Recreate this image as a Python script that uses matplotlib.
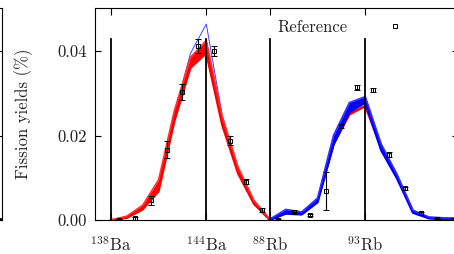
import numpy as np
import matplotlib
matplotlib.use("Agg")
import matplotlib.pyplot as plt
from matplotlib.lines import Line2D

plt.rcParams['font.family'] = ['cmr10', 'DejaVu Serif']
plt.rcParams['mathtext.fontset'] = 'cm'
plt.rcParams['axes.formatter.use_mathtext'] = True

# nuclide markers on the x axis
tick_pos = [0, 6, 10, 16]
tick_labels = [r'$^{138}$Ba', r'$^{144}$Ba', r'$^{88}$Rb', r'$^{93}$Rb']

# reference yields (data points sit half a step right of the model vertices)
ref_x = [0.5, 1.5, 2.5, 3.5, 4.5, 5.5, 6.5, 7.5, 8.5, 9.5,
         10.5, 11.5, 12.5, 13.5, 14.5, 15.5, 16.5, 17.5, 18.5, 19.5, 20.5, 21.5]
ref_y = [0.0001, 0.0004, 0.0047, 0.0166, 0.0302, 0.0412, 0.0400, 0.0188, 0.0091, 0.0024,
         0.0001, 0.0020, 0.0012, 0.0069, 0.0222, 0.0314, 0.0308, 0.0155, 0.0075, 0.0016, 0.0003, 0.0000]
ref_err = [0.0001, 0.0003, 0.0011, 0.0020, 0.0019, 0.0017, 0.0011, 0.0011, 0.0005, 0.0004,
           0.0001, 0.0003, 0.0002, 0.0045, 0.0004, 0.0005, 0.0004, 0.0005, 0.0004, 0.0003, 0.0001, 0.0001]

# Ba model band (red) and outlier (blue)
ba_k = [0, 1, 2, 3, 4, 5, 6, 7, 8, 9, 10]
ba_red_lo = [0.0, 0.0005, 0.0025, 0.0068, 0.0235, 0.0360, 0.0395, 0.0225, 0.0110, 0.0038, 0.0]
ba_red_hi = [0.0, 0.0009, 0.0035, 0.0095, 0.0260, 0.0385, 0.0425, 0.0245, 0.0125, 0.0046, 0.0002]
ba_blue = [0.0, 0.0007, 0.0030, 0.0085, 0.0252, 0.0394, 0.0464, 0.0248, 0.0122, 0.0044, 0.0]

# Rb model band (blue) with red underneath
rb_k = [10, 11, 12, 13, 14, 15, 16, 17, 18, 19, 20, 21, 22]
rb_blue_lo = [0.0, 0.0015, 0.0013, 0.0042, 0.0178, 0.0255, 0.0278, 0.0165, 0.0098, 0.0017, 0.0004, 0.0002, 0.0002]
rb_blue_hi = [0.0002, 0.0025, 0.0019, 0.0052, 0.0200, 0.0278, 0.0292, 0.0180, 0.0108, 0.0023, 0.0007, 0.0005, 0.0004]
rb_red = [0.0001, 0.0018, 0.0015, 0.0045, 0.0180, 0.0250, 0.0270, 0.0172, 0.0103, 0.0021, 0.0005, 0.0003, 0.0003]

# neighbour panel on the left (only its edge shows)
left_x = [0.0]
left_y = [0.0001]

fig = plt.figure(figsize=(4.54, 2.54), dpi=100)
ax = fig.add_axes([95 / 454, 34 / 254, 362.5 / 454, 212 / 254])
axl = fig.add_axes([-0.3, 34 / 254, 0.3 + 1.5 / 454, 212 / 254])

# Ba part: blue under red
ax.plot(ba_k, ba_blue, color='#4040ff', lw=0.7, zorder=2)
ax.fill_between(ba_k, ba_red_lo, ba_red_hi, color='red', lw=0, zorder=3)
ax.plot(ba_k, ba_red_lo, color='red', lw=1.6, zorder=3)
ax.plot(ba_k, ba_red_hi, color='#ff3030', lw=1.2, zorder=3)

# Rb part: red under blue
ax.plot(rb_k, rb_red, color='red', lw=1.8, zorder=2)
ax.fill_between(rb_k, rb_blue_lo, rb_blue_hi, color='blue', lw=0, zorder=3)
ax.plot(rb_k, rb_blue_lo, color='blue', lw=1.6, zorder=3)
ax.plot(rb_k, rb_blue_hi, color='#3030ff', lw=1.2, zorder=3)

for p in tick_pos:
    ax.axvline(p, ymin=0, ymax=0.854, color='black', lw=1.3, zorder=4)

ax.errorbar(ref_x, ref_y, yerr=ref_err, fmt='s', ms=3.2, mfc='none', mec='black',
            mew=0.7, ecolor='black', elinewidth=0.8, capsize=2.5, capthick=0.8, zorder=5)

ax.set_xlim(-1, 21.8)
ax.set_ylim(0, 0.0502)
ax.set_xticks(tick_pos)
ax.set_xticklabels(tick_labels, fontsize=12, color='#222222')
ax.set_yticks([0, 0.02, 0.04])
ax.set_yticklabels(['0.00', '0.02', '0.04'], fontsize=12, color='#222222')
ax.tick_params(axis='x', direction='in', length=5, top=True, pad=11, width=0.8)
ax.tick_params(axis='y', direction='in', length=4, right=True, pad=6, width=0.8)
ax.set_ylabel('Fission yields (%)', fontsize=12, color='#222222')
ax.yaxis.set_label_coords(-0.172, 0.5)
for s in ax.spines.values():
    s.set_linewidth(0.8)

handle = Line2D([], [], marker='s', ls='none', ms=3.2, mfc='none', mec='black', mew=0.7)
ax.legend([handle], ['Reference'], loc='center left', bbox_to_anchor=(0.502, 0.91),
          frameon=False, markerfirst=False, borderpad=0, borderaxespad=0,
          handletextpad=1.9, fontsize=12, labelcolor='#222222')

axl.errorbar(left_x, left_y, yerr=[0.0001], fmt='s', ms=3.2, mfc='none', mec='black',
             mew=0.7, ecolor='black', capsize=2.5, clip_on=True)
axl.set_xlim(-10, 0.2)
axl.set_ylim(0, 0.0502)
axl.set_yticks([0, 0.02, 0.04])
axl.set_xticks([])
axl.tick_params(axis='y', direction='in', length=4, left=False, right=True,
                labelleft=False, width=0.8)
for s in axl.spines.values():
    s.set_linewidth(0.8)

fig.savefig('out.png', dpi=100)
